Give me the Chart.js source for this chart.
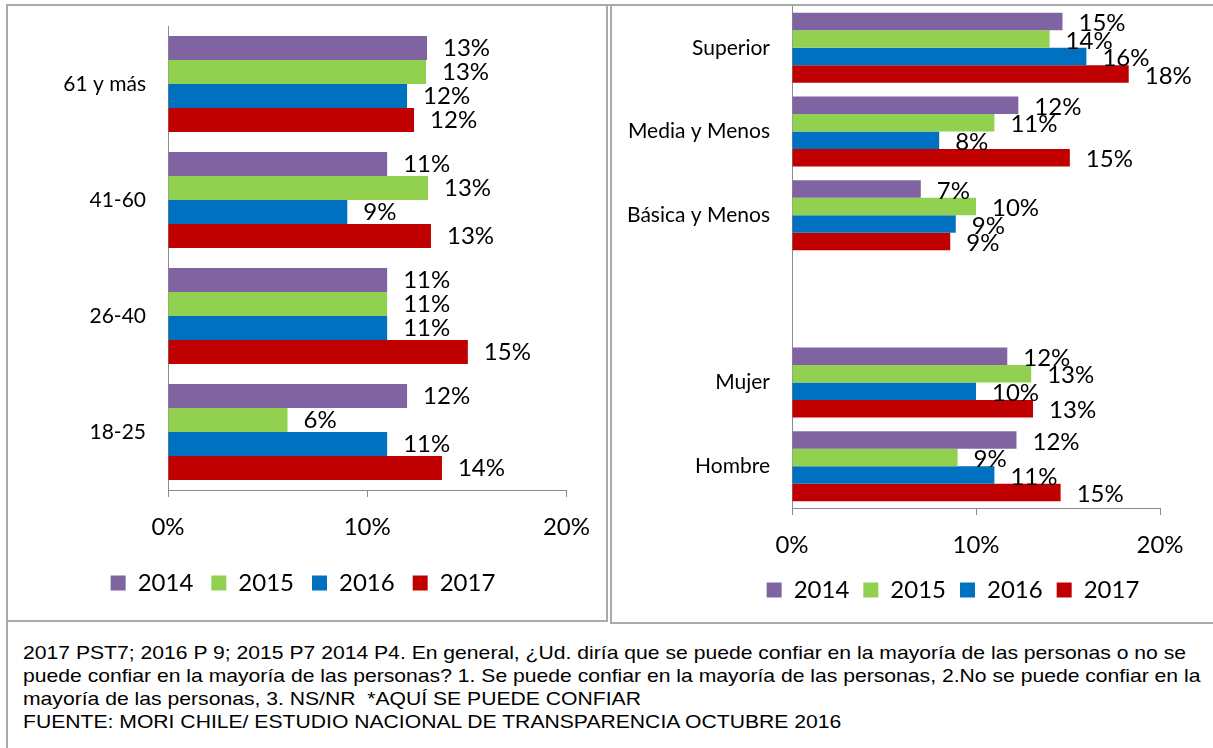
<!DOCTYPE html>
<html><head><meta charset="utf-8">
<script src="https://cdn.jsdelivr.net/npm/chart.js@4.4.1/dist/chart.umd.min.js"></script>
<style>
html,body{margin:0;padding:0;background:#fff;}
body{width:1213px;height:748px;overflow:hidden;position:relative;}
.ln{position:absolute;background:#a9a9a9;}
canvas{position:absolute;}
#note{position:absolute;left:23px;top:641px;font-family:"Liberation Sans Narrow","Liberation Sans",Arial,sans-serif;font-size:19px;line-height:23px;color:#000;white-space:nowrap;transform-origin:0 0;}
</style></head><body>
<!-- panel borders -->
<div class="ln" style="left:6px;top:4px;width:1207px;height:2px"></div>
<div class="ln" style="left:6px;top:4px;width:2px;height:744px"></div>
<div class="ln" style="left:606px;top:4px;width:2px;height:618px"></div>
<div class="ln" style="left:610px;top:4px;width:2px;height:620px"></div>
<div class="ln" style="left:6px;top:620px;width:602px;height:2px"></div>
<div class="ln" style="left:610px;top:622px;width:603px;height:2px"></div>

<canvas id="cAge" width="598" height="614" style="left:8px;top:6px;width:598px;height:614px"></canvas>
<canvas id="cEdu" width="601" height="616" style="left:612px;top:6px;width:601px;height:616px"></canvas>

<div id="note">
<div>2017 PST7; 2016 P 9; 2015 P7 2014 P4. En general, ¿Ud. diría que se puede confiar en la mayoría de las personas o no se</div>
<div>puede confiar en la mayoría de las personas? 1. Se puede confiar en la mayoría de las personas, 2.No se puede confiar en la</div>
<div>mayoría de las personas, 3. NS/NR &nbsp;*AQUÍ SE PUEDE CONFIAR</div>
<div>FUENTE: MORI CHILE/ ESTUDIO NACIONAL DE TRANSPARENCIA OCTUBRE 2016</div>
</div>

<script>
// ---- data ----
const years = ['2014', '2015', '2016', '2017'];
const colors = ['#8064A2', '#92D050', '#0070C0', '#C00000'];

const ageCategories = ['61 y más', '41-60', '26-40', '18-25'];
const age2014 = [13.0, 11.0, 11.0, 12.0];
const age2015 = [12.95, 13.05, 11.0, 6.0];
const age2016 = [12.0, 9.0, 11.0, 11.0];
const age2017 = [12.35, 13.2, 15.05, 13.75];

const groupCategories = ['Superior', 'Media y Menos', 'Básica y Menos', '', 'Mujer', 'Hombre'];
const grp2014 = [14.7, 12.3, 7.0, null, 11.7, 12.2];
const grp2015 = [14.0, 11.0, 10.0, null, 13.0, 9.0];
const grp2016 = [16.0, 8.0, 8.9, null, 10.0, 11.0];
const grp2017 = [18.3, 15.1, 8.6, null, 13.1, 14.6];

const xTicks = [0, 10, 20];

// ---- chart setup ----
Chart.defaults.font.family = 'Lato, "Noto Sans", sans-serif';
Chart.defaults.color = '#000';
const axisGray = '#8c8c8c';

const valueLabels = {
  id: 'valueLabels',
  afterLayout(chart) {
    // let category labels extend left of the axis box (no clipping)
    if (chart.scales.y) chart.scales.y.left = 0;
  },
  afterDatasetsDraw(chart, args, opts) {
    const ctx = chart.ctx;
    ctx.save();
    ctx.font = opts.size + 'px Lato, "Noto Sans", sans-serif';
    ctx.fillStyle = '#000';
    ctx.textAlign = 'left';
    ctx.textBaseline = 'middle';
    chart.data.datasets.forEach((ds, i) => {
      const meta = chart.getDatasetMeta(i);
      meta.data.forEach((bar, j) => {
        const v = ds.data[j];
        if (v === null || v === undefined) return;
        ctx.fillText(Math.round(v) + '%', bar.x + opts.dx, bar.y + opts.dy);
      });
    });
    ctx.restore();
  }
};

function makeChart(id, labels, series, cfg) {
  return new Chart(document.getElementById(id), {
    type: 'bar',
    data: {
      labels: labels,
      datasets: series.map((d, i) => ({
        label: years[i],
        data: d,
        backgroundColor: colors[i],
        borderWidth: 0,
        barPercentage: 1.0,
        categoryPercentage: cfg.catPct
      }))
    },
    plugins: [valueLabels],
    options: {
      indexAxis: 'y',
      responsive: false,
      animation: false,
      devicePixelRatio: 1,
      layout: { padding: cfg.padding },
      scales: {
        x: {
          min: 0, max: 20,
          afterBuildTicks(s) { s.ticks = xTicks.map(v => ({ value: v })); },
          ticks: { callback: v => v + '%', font: { size: 24 }, color: '#000', padding: 16, maxRotation: 0 },
          grid: { display: true, drawOnChartArea: false, drawTicks: true, tickLength: 7, color: axisGray },
          border: { display: true, color: axisGray, width: 1 },
          afterFit(s) { s.height = cfg.xHeight; }
        },
        y: {
          grid: { display: false, drawTicks: false },
          border: { display: true, color: axisGray, width: 1 },
          ticks: { font: { size: 21 }, color: '#000', padding: 22 },
          afterFit(s) { s.width = cfg.yWidth; s.paddingTop = 0; s.paddingBottom = 0; }
        }
      },
      plugins: {
        legend: {
          position: 'bottom',
          labels: { boxWidth: 15, boxHeight: 15, padding: cfg.legendPad, font: { size: 24 }, color: '#000' }
        },
        tooltip: { enabled: false },
        valueLabels: cfg.labels
      }
    }
  });
}

makeChart('cAge', ageCategories, [age2014, age2015, age2016, age2017], {
  catPct: 0.828,
  padding: { left: 29, right: 37, top: 20, bottom: 15 },
  xHeight: 63, yWidth: 131, legendPad: 18,
  labels: { size: 24, dx: 16, dy: 0 }
});

makeChart('cEdu', groupCategories, [grp2014, grp2015, grp2016, grp2017], {
  catPct: 0.837,
  padding: { left: 134, right: 53, top: 0, bottom: 10 },
  xHeight: 56, yWidth: 46, legendPad: 14,
  labels: { size: 24, dx: 16, dy: 2 }
});

// fit the note text to the reference line width
(document.fonts ? document.fonts.ready : Promise.resolve()).then(() => {
  const note = document.getElementById('note');
  const first = note.firstElementChild;
  const r = document.createRange(); r.selectNodeContents(first);
  const w = r.getBoundingClientRect().width;
  if (w > 0) note.style.transform = 'scaleX(' + (1163 / w) + ')';
});
</script>
</body></html>
